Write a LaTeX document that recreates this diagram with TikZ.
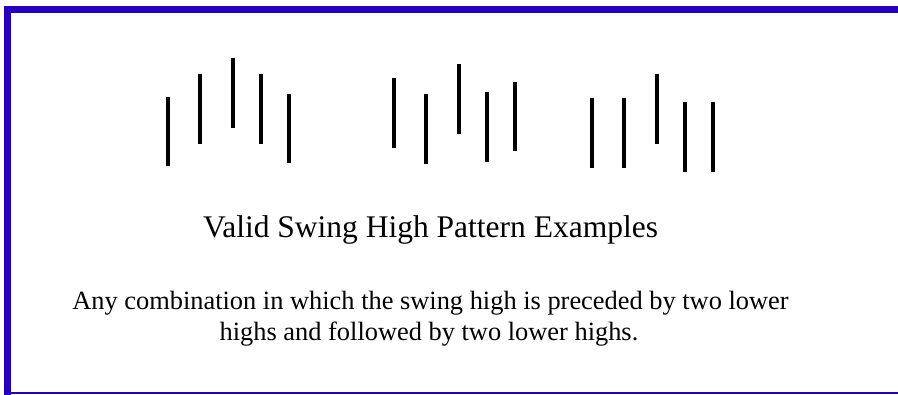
\documentclass[tikz,border=0pt]{standalone}
\usepackage{fontspec}
\setmainfont{Liberation Serif}
\definecolor{framecol}{RGB}{38,0,192}
\begin{document}
\begin{tikzpicture}[x=1pt,y=-1pt,
  bar/.style={line width=4pt,black},
  frameline/.style={framecol,line width=7pt},
  title/.style={font=\fontsize{31.5}{36}\selectfont,anchor=base,inner sep=0pt},
  body/.style={font=\fontsize{26.4}{31}\selectfont,anchor=base,inner sep=0pt}]
\useasboundingbox (0,0) rectangle (898,395);
% frame
\coordinate (tl) at (7.5,6);
\coordinate (tr) at (898,9.5);
\coordinate (bl) at (7.5,395);
\coordinate (bbl) at (4,393.5);
\coordinate (bbr) at (898,393.5);
\draw[frameline] (tl) -- (bl);
\draw[frameline] (4,9.5) -- (tr);
\draw[framecol,line width=2pt] (bbl) -- (bbr);
% group 1
\draw[bar] (168.3,96.7) -- (168.3,166);
\draw[bar] (200.3,74.3) -- (200.3,143.7);
\draw[bar] (233.3,58.3) -- (233.3,128.3);
\draw[bar] (261.3,74.3) -- (261.3,143.7);
\draw[bar] (289.3,94) -- (289.3,163.3);
% group 2
\draw[bar] (394.3,78.3) -- (394.3,147.7);
\draw[bar] (426.3,93.7) -- (426.3,163.7);
\draw[bar] (459,64.3) -- (459,133.7);
\draw[bar] (487.3,92) -- (487.3,161.7);
\draw[bar] (515,82) -- (515,151.3);
% group 3
\draw[bar] (592.3,98) -- (592.3,167.7);
\draw[bar] (624,98) -- (624,167.7);
\draw[bar] (657,74.3) -- (657,143.7);
\draw[bar] (685.3,101.7) -- (685.3,171.7);
\draw[bar] (713,101.7) -- (713,171.7);
% texts
\node[title] (t) at (430.5,238) {Valid Swing High Pattern Examples};
\node[body] (b1) at (430.5,309.5) {Any combination in which the swing high is preceded by two lower};
\node[body] (b2) at (429,340.5) {highs and followed by two lower highs.};
\end{tikzpicture}
\end{document}
